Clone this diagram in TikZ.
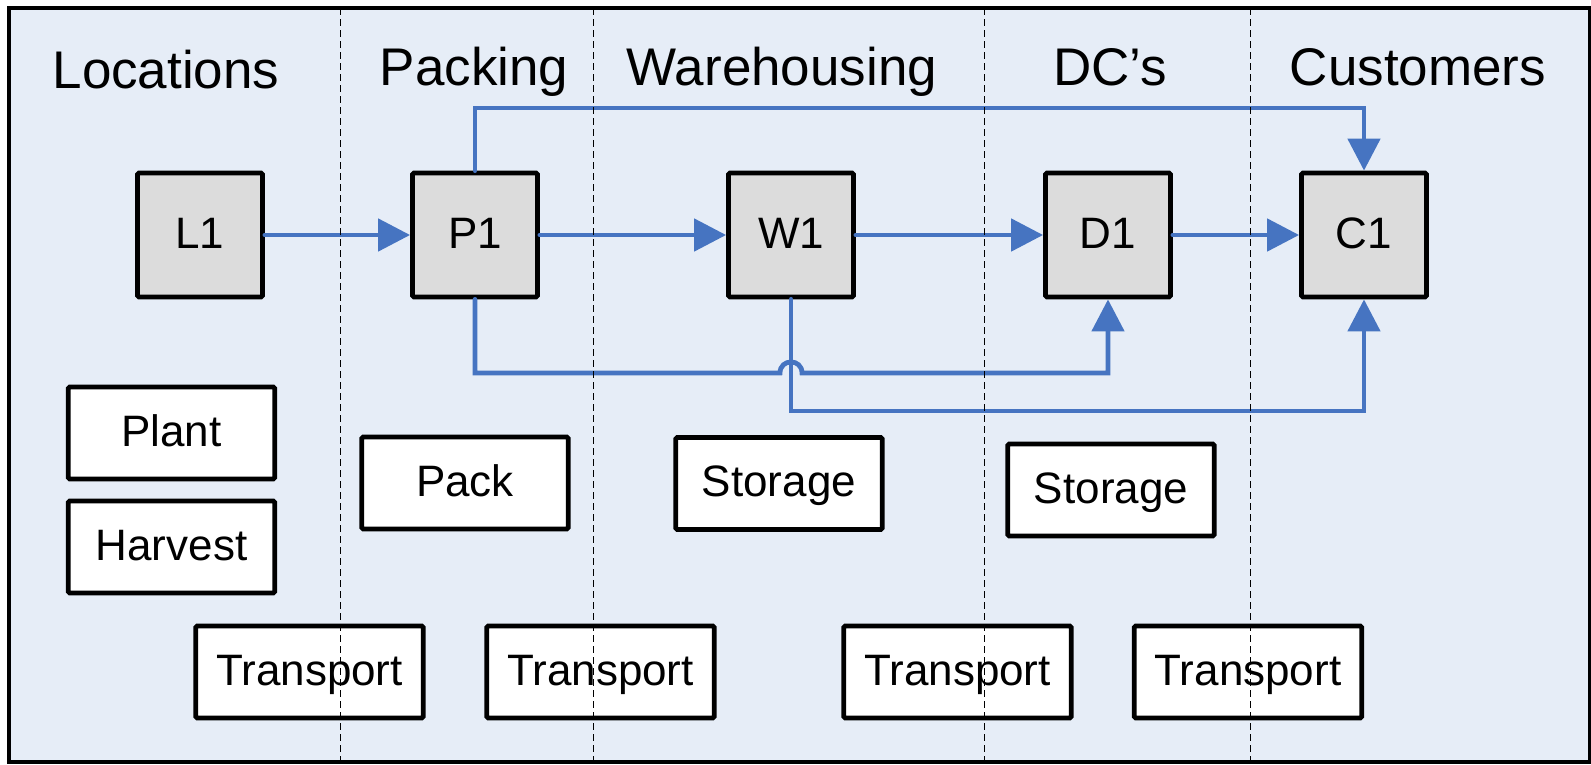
\documentclass[tikz,border=0pt]{standalone}
\usepackage{fontspec}
\setmainfont{Liberation Sans}
\usetikzlibrary{arrows.meta,calc}
\definecolor{laneblue}{RGB}{230,237,247}
\definecolor{boxgray}{RGB}{220,220,220}
\definecolor{flowblue}{RGB}{70,116,193}

\begin{document}
\begin{tikzpicture}[x=1pt,y=-1pt,
    flowline/.style={draw=flowblue,line width=4.8pt,line cap=round,-{Triangle[length=32pt,width=32pt]}},
    lanesep/.style={draw=black,line width=1pt,dash pattern=on 7pt off 4pt}]
  \useasboundingbox (0,0) rectangle (1591,764);
  \fill[laneblue] (9,8) rectangle (1590,762);
  \begin{scope}[every node/.style={anchor=base,font=\fontsize{53}{60}\selectfont}]
  \node (tloc) at (166,88) {Locations};
  \node (tpack) at (474,85) {Packing};
  \node (tware) at (782,85) {Warehousing};
  \node (tdc) at (1110,85) {DC’s};
  \node (tcust) at (1418,85) {Customers};
  \end{scope}
  \begin{scope}[every node/.style={draw,line width=4.8pt,fill=boxgray,rounded corners=1.5pt,minimum width=125pt,minimum height=124pt,text height=36pt,text depth=9.7pt,font=\fontsize{44}{50}\selectfont}]
  \node (l1) at (200,235) {L1};
  \node (p1) at (475,235) {P1};
  \node (w1) at (791,235) {W1};
  \node (d1) at (1108,235) {D1};
  \node (c1) at (1364,235) {C1};
  \end{scope}
  \begin{scope}[every node/.style={draw,line width=4.8pt,fill=white,rounded corners=1.5pt,minimum width=206.5pt,minimum height=92pt,text height=36pt,text depth=9.7pt,font=\fontsize{44}{50}\selectfont}]
  \node (plant) at (171.5,433) {Plant};
  \node (harvest) at (171.5,547) {Harvest};
  \node (pack) at (465,483) {Pack};
  \node (stor1) at (779,483.5) {Storage};
  \node (stor2) at (1111,490) {Storage};
  \node[minimum width=227.5pt] (tr1) at (309.5,672) {Transport};
  \node[minimum width=227.5pt] (tr2) at (600.5,672) {Transport};
  \node[minimum width=227.5pt] (tr3) at (957.5,672) {Transport};
  \node[minimum width=227.5pt] (tr4) at (1248,672) {Transport};
  \end{scope}
  \coordinate (rowt) at (0,108);
  \coordinate (rowa) at (0,373);
  \coordinate (rowb) at (0,411);
  \coordinate (hopa) at ($(w1.south |- rowa)+(-11,0)$);
  \coordinate (hopb) at ($(w1.south |- rowa)+(11,0)$);
  \begin{scope}[every edge/.style=flowline]
  \path (l1) edge (p1);
  \path (p1) edge (w1);
  \path (w1) edge (d1);
  \path (d1) edge (c1);
  \end{scope}
  \draw[flowline] (p1.north) -- (p1.north |- rowt) -| (c1.north);
  \draw[flowline] (p1.south) -- (p1.south |- rowa) -- (hopa)
    .. controls ($(hopa)+(0,-14.7)$) and ($(hopb)+(0,-14.7)$) .. (hopb) -| (d1.south);
  \draw[flowline] (w1.south) -- (w1.south |- rowb) -| (c1.south);
  \foreach \x in {340,593,984,1250}
    \draw[lanesep] (\x,8) -- (\x,762);
  \draw[line width=4.5pt] (9,8) rectangle (1590,762);
\end{tikzpicture}
\end{document}
